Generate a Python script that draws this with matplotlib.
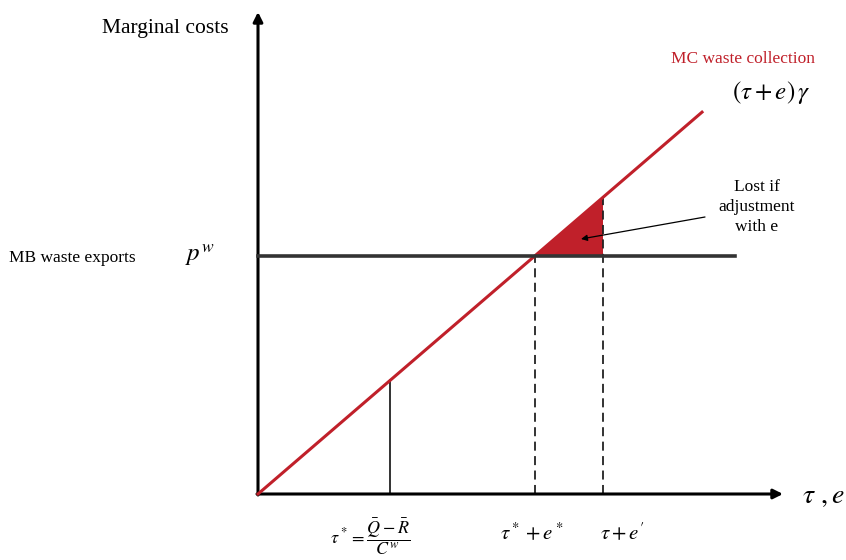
import numpy as np
import matplotlib
matplotlib.use("Agg")
import matplotlib.pyplot as plt

plt.rcParams['font.family'] = ['Liberation Serif', 'DejaVu Serif']
plt.rcParams['mathtext.fontset'] = 'stix'

# model values (arbitrary units)
gamma = 0.86          # slope of MC curve
p_w = 2.38            # marginal benefit of waste exports
tau_star = 1.32       # tau*
tau_e_star = p_w / gamma   # tau* + e*
tau_e_prime = 3.45    # tau + e'
mc_end = 4.44         # end of MC line
pw_end = 4.77         # end of MB line
x_axis_end = 5.25
y_axis_end = 4.82

RED = "#c0202a"

fig = plt.figure(figsize=(8.46, 5.60), dpi=100)
ax = fig.add_axes([0, 0, 1, 1])
ax.set_xlim(-2.58, 5.88)
ax.set_ylim(-0.66, 4.94)
ax.axis("off")

# axes arrows
ax.annotate("", xy=(0, y_axis_end), xytext=(0, -0.01),
            arrowprops=dict(arrowstyle="-|>", lw=2.2, color="k",
                            mutation_scale=14, shrinkA=0, shrinkB=0))
ax.annotate("", xy=(x_axis_end, 0), xytext=(-0.01, 0),
            arrowprops=dict(arrowstyle="-|>", lw=2.2, color="k",
                            mutation_scale=14, shrinkA=0, shrinkB=0))

# shaded loss triangle
xs = [tau_e_star, tau_e_prime, tau_e_prime]
ys = [p_w, p_w, gamma * tau_e_prime]
ax.fill(xs, ys, color=RED, lw=0, zorder=2)

# MC curve
x_mc = np.array([0.0, mc_end])
ax.plot(x_mc, gamma * x_mc, color=RED, lw=2.2, zorder=3)

# MB line
ax.plot([0, pw_end], [p_w, p_w], color="#333333", lw=2.6, zorder=3)

# tau* vertical
ax.plot([tau_star, tau_star], [0, gamma * tau_star], color="#222222", lw=1.3)
# dashed verticals
ax.plot([tau_e_star, tau_e_star], [0, p_w], color="#222222", lw=1.3,
        ls=(0, (5, 3)))
ax.plot([tau_e_prime, tau_e_prime], [0, gamma * tau_e_prime], color="#222222",
        lw=1.3, ls=(0, (5, 3)))

# labels
ax.text(-0.93, 4.66, "Marginal costs", fontsize=15.5, ha="center", va="center")
ax.text(4.85, 4.35, "MC waste collection", fontsize=12.5, color=RED,
        ha="center", va="center")
ax.text(5.13, 4.02, r"$(\tau + e)\,\gamma$", fontsize=18, ha="center",
        va="center")
ax.text(4.99, 2.87, "Lost if\nadjustment\nwith e", fontsize=12.5,
        ha="center", va="center", linespacing=1.32)
ax.annotate("", xy=(3.23, 2.55), xytext=(4.47, 2.77),
            arrowprops=dict(arrowstyle="-|>", lw=0.9, color="k",
                            mutation_scale=9, shrinkA=0, shrinkB=0))
ax.text(-1.86, 2.36, "MB waste exports", fontsize=12.5, ha="center",
        va="center")
ax.text(-0.58, 2.38, r"$p^w$", fontsize=18, ha="center", va="center")
ax.text(5.65, -0.03, r"$\tau\ ,e$", fontsize=20, ha="center", va="center")
ax.text(1.12, -0.425, r"$\tau^* = \dfrac{\bar{Q} - \bar{R}}{C^w}$", fontsize=13,
        ha="center", va="center")
ax.text(2.74, -0.40, r"$\tau^* + e^*$", fontsize=15, ha="center", va="center")
ax.text(3.64, -0.40, r"$\tau + e'$", fontsize=15, ha="center", va="center")

fig.savefig("out.png", dpi=100)
